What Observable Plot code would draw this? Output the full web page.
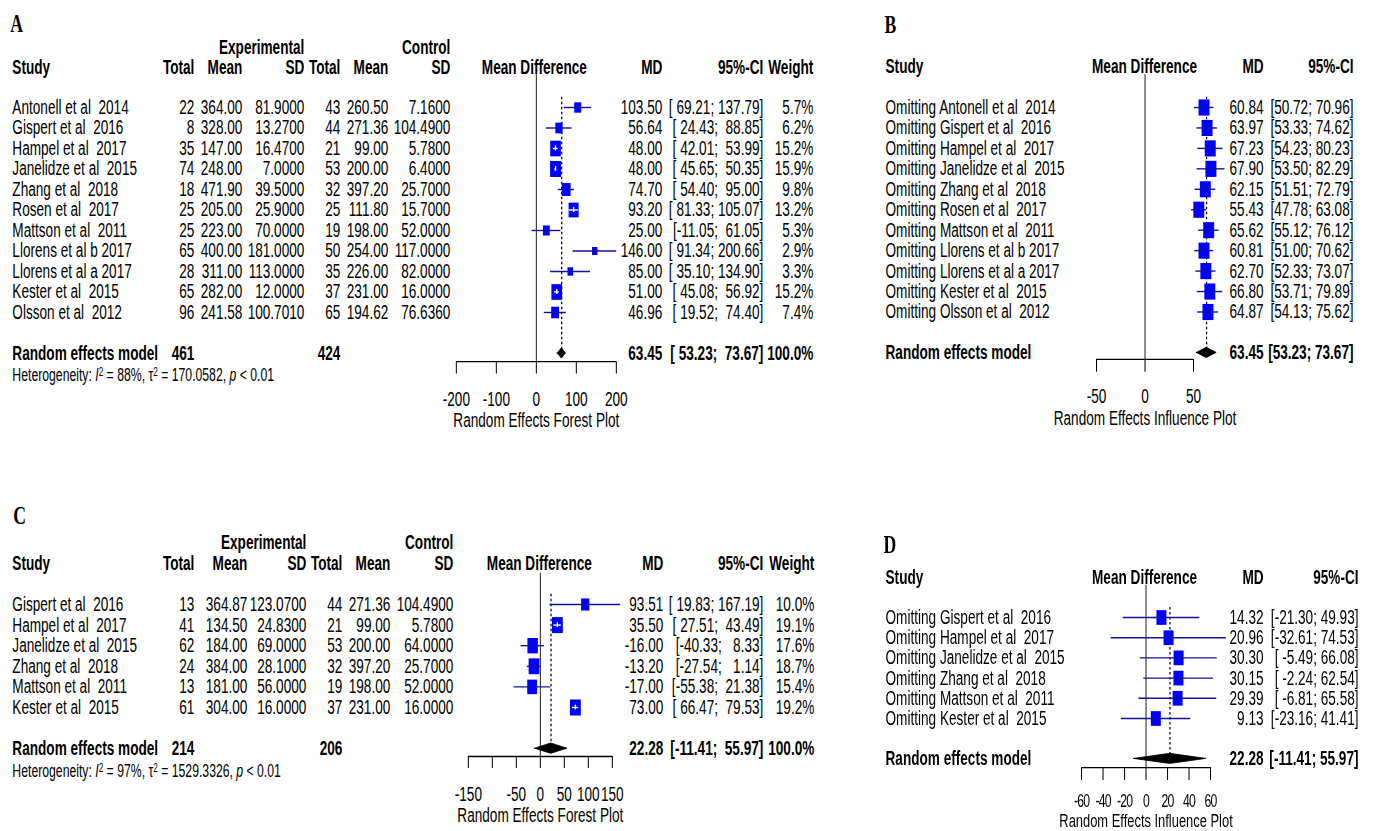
<!DOCTYPE html>
<html><head><meta charset="utf-8">
<script src="https://cdn.jsdelivr.net/npm/d3@7"></script>
<script src="https://cdn.jsdelivr.net/npm/@observablehq/plot@0.6"></script>
<style>
html,body{margin:0;padding:0;background:#fff;overflow:hidden;width:1373px;height:831px;}
#page{position:absolute;left:0;top:0;height:831px;transform-origin:0 0;}
.panel{position:absolute;}
.panel svg{max-width:none !important;display:block;}
svg text{white-space:pre;}
</style></head><body><div id="page"></div>
<script>
// ---------- Panel A: forest plot ----------
const studiesA = ["Antonell et al  2014","Gispert et al  2016","Hampel et al  2017","Janelidze et al  2015","Zhang et al  2018","Rosen et al  2017","Mattson et al  2011","Llorens et al b 2017","Llorens et al a 2017","Kester et al  2015","Olsson et al  2012"];
const expTotalA = [22, 8, 35, 74, 18, 25, 25, 65, 28, 65, 96];
const expMeanA  = [364.00, 328.00, 147.00, 248.00, 471.90, 205.00, 223.00, 400.00, 311.00, 282.00, 241.58];
const expSDA    = [81.9, 13.27, 16.47, 7.0, 39.5, 25.9, 70.0, 181.0, 113.0, 12.0, 100.701];
const ctlTotalA = [43, 44, 21, 53, 32, 25, 19, 50, 35, 37, 65];
const ctlMeanA  = [260.50, 271.36, 99.00, 200.00, 397.20, 111.80, 198.00, 254.00, 226.00, 231.00, 194.62];
const ctlSDA    = [7.16, 104.49, 5.78, 6.4, 25.7, 15.7, 52.0, 117.0, 82.0, 16.0, 76.636];
const mdA       = [103.50, 56.64, 48.00, 48.00, 74.70, 93.20, 25.00, 146.00, 85.00, 51.00, 46.96];
const lowerA    = [69.21, 24.43, 42.01, 45.65, 54.40, 81.33, -11.05, 91.34, 35.10, 45.08, 19.52];
const upperA    = [137.79, 88.85, 53.99, 50.35, 95.00, 105.07, 61.05, 200.66, 134.90, 56.92, 74.40];
const weightA   = [5.7, 6.2, 15.2, 15.9, 9.8, 13.2, 5.3, 2.9, 3.3, 15.2, 7.4];
const summaryA  = [63.45, 53.23, 73.67];
const totalsA   = [461, 424];
const hetA      = ["88%", "170.0582", "< 0.01"];
const ticksA    = [-200, -100, 0, 100, 200];
const tickLabelsA = [-200, -100, 0, 100, 200];

// ---------- Panel B: influence plot ----------
const studiesB = ["Omitting Antonell et al  2014","Omitting Gispert et al  2016","Omitting Hampel et al  2017","Omitting Janelidze et al  2015","Omitting Zhang et al  2018","Omitting Rosen et al  2017","Omitting Mattson et al  2011","Omitting Llorens et al b 2017","Omitting Llorens et al a 2017","Omitting Kester et al  2015","Omitting Olsson et al  2012"];
const mdB     = [60.84, 63.97, 67.23, 67.90, 62.15, 55.43, 65.62, 60.81, 62.70, 66.80, 64.87];
const lowerB  = [50.72, 53.33, 54.23, 53.50, 51.51, 47.78, 55.12, 51.00, 52.33, 53.71, 54.13];
const upperB  = [70.96, 74.62, 80.23, 82.29, 72.79, 63.08, 76.12, 70.62, 73.07, 79.89, 75.62];
const summaryB = [63.45, 53.23, 73.67];
const ticksB = [-50, 0, 50];
const tickLabelsB = [-50, 0, 50];

// ---------- Panel C: forest plot ----------
const studiesC = ["Gispert et al  2016","Hampel et al  2017","Janelidze et al  2015","Zhang et al  2018","Mattson et al  2011","Kester et al  2015"];
const expTotalC = [13, 41, 62, 24, 13, 61];
const expMeanC  = [364.87, 134.50, 184.00, 384.00, 181.00, 304.00];
const expSDC    = [123.07, 24.83, 69.0, 28.1, 56.0, 16.0];
const ctlTotalC = [44, 21, 53, 32, 19, 37];
const ctlMeanC  = [271.36, 99.00, 200.00, 397.20, 198.00, 231.00];
const ctlSDC    = [104.49, 5.78, 64.0, 25.7, 52.0, 16.0];
const mdC       = [93.51, 35.50, -16.00, -13.20, -17.00, 73.00];
const lowerC    = [19.83, 27.51, -40.33, -27.54, -55.38, 66.47];
const upperC    = [167.19, 43.49, 8.33, 1.14, 21.38, 79.53];
const weightC   = [10.0, 19.1, 17.6, 18.7, 15.4, 19.2];
const summaryC  = [22.28, -11.41, 55.97];
const totalsC   = [214, 206];
const hetC      = ["97%", "1529.3326", "< 0.01"];
const ticksC    = [-150, -100, -50, 0, 50, 100, 150];
const tickLabelsC = [-150, -50, 0, 50, 100, 150];

// ---------- Panel D: influence plot ----------
const studiesD = ["Omitting Gispert et al  2016","Omitting Hampel et al  2017","Omitting Janelidze et al  2015","Omitting Zhang et al  2018","Omitting Mattson et al  2011","Omitting Kester et al  2015"];
const mdD     = [14.32, 20.96, 30.30, 30.15, 29.39, 9.13];
const lowerD  = [-21.30, -32.61, -5.49, -2.24, -6.81, -23.16];
const upperD  = [49.93, 74.53, 66.08, 62.54, 65.58, 41.41];
const summaryD = [22.28, -11.41, 55.97];
const ticksD = [-60, -40, -20, 0, 20, 40, 60];
const tickLabelsD = [-60, -40, -20, 0, 20, 40, 60];

// ---------- rendering ----------
const SX = 0.68; // horizontal compression of the original picture
const SANS = "'Liberation Sans', Arial, Helvetica, sans-serif";
const SERIF = "'Liberation Serif', 'Times New Roman', serif";
const SQUARE = "#0000ff";
const CILINE = "#10109a";

const page = document.getElementById("page");
page.style.width = (1373 / SX) + "px";
page.style.transform = `scaleX(${SX})`;

function buildPanel(c) {
  const n = c.md.length, idx = d3.range(n);
  const L = v => (v - c.left) / SX;
  const reRow = n + 1, hetRow = n + 2;
  const lo = c.lower, hi = c.upper, S = c.summary;
  const wl = d3.max([...lo, S[1]], v => v.toFixed(2).length);
  const wh = d3.max([...hi, S[2]], v => v.toFixed(2).length);
  const ci = (a, b) => "[" + a.toFixed(2).padStart(wl) + "; " + b.toFixed(2).padStart(wh) + "]";
  const k = (L(c.px[1]) - L(c.px[0])) / (c.dom[1] - c.dom[0]);
  const wmax = c.weight ? d3.max(c.weight) : 1;
  const rad = i => c.weight ? c.r[0] + (c.r[1] - c.r[0]) * Math.sqrt(c.weight[i] / wmax) : c.r[1];
  const inside = idx.filter(i => (hi[i] - lo[i]) * k < Math.sqrt(Math.PI) * rad(i));
  const outside = idx.filter(i => !inside.includes(i));
  const T = (data, o) => Plot.text(data, {frameAnchor: "left", fontSize: 20, ...o});
  const col = (x, a, text, o = {}) => T(idx, {y: i => i, dx: L(x), textAnchor: a, text, ...o});
  const one = (t, row, x, a, o = {}) => T([t], {y: () => row, dx: L(x), textAnchor: a, text: d => d, ...o});
  const B = {fontWeight: "bold"};
  const cl = c.cols, h2 = c.h2;
  const marks = [];
  marks.push(one(c.letter, c.letterRow, c.letterX, "start", {fontFamily: SERIF, fontWeight: "bold", fontSize: 26}));
  if (c.expTotal) {
    marks.push(one("Experimental", c.h1, cl.sdE, "end", B), one("Control", c.h1, cl.sdC, "end", B));
    for (const [t, x] of [["Total", cl.totE], ["Mean", cl.meanE], ["SD", cl.sdE], ["Total", cl.totC], ["Mean", cl.meanC], ["SD", cl.sdC]])
      marks.push(one(t, h2, x, "end", B));
  }
  marks.push(one("Study", h2, cl.study, "start", B), one("Mean Difference", h2, cl.mdHead, "middle", B),
             one("MD", h2, cl.md, "end", B), one("95%-CI", h2, cl.ci, "end", B));
  if (c.weight) marks.push(one("Weight", h2, cl.w, "end", B));
  marks.push(col(cl.study, "start", i => c.studies[i]));
  if (c.expTotal) {
    marks.push(
      col(cl.totE, "end", i => String(c.expTotal[i])),
      col(cl.meanE, "end", i => c.expMean[i].toFixed(2)),
      col(cl.sdE, "end", i => c.expSD[i].toFixed(4)),
      col(cl.totC, "end", i => String(c.ctlTotal[i])),
      col(cl.meanC, "end", i => c.ctlMean[i].toFixed(2)),
      col(cl.sdC, "end", i => c.ctlSD[i].toFixed(4)));
  }
  marks.push(col(cl.md, "end", i => c.md[i].toFixed(2)), col(cl.ci, "end", i => ci(lo[i], hi[i])));
  if (c.weight) marks.push(col(cl.w, "end", i => c.weight[i].toFixed(1) + "%"));
  marks.push(one("Random effects model", reRow, cl.study, "start", B));
  if (c.totals) marks.push(one(String(c.totals[0]), reRow, cl.totE, "end", B), one(String(c.totals[1]), reRow, cl.totC, "end", B));
  marks.push(one(S[0].toFixed(2), reRow, cl.md, "end", B), one(ci(S[1], S[2]), reRow, cl.ci, "end", B));
  if (c.weight) marks.push(one("100.0%", reRow, cl.w, "end", B));
  if (c.het) marks.push(one(`Heterogeneity: I² = ${c.het[0]}, τ² = ${c.het[1]}, p ${c.het[2]}`, hetRow + 0.08, cl.study, "start", {fontSize: 18}));

  const axisRow = reRow + c.ax[0];
  marks.push(
    Plot.ruleX([0], {y1: () => c.zeroTop, y2: () => axisRow, stroke: "#222", strokeWidth: 1.5}),
    Plot.ruleX([S[0]], {y1: () => -0.5, y2: () => reRow, stroke: "#000", strokeWidth: 1.8, strokeDasharray: "2.5,2.5"}),
    Plot.dot(idx, {x: i => c.md[i], y: i => i, r: c.weight ? (i => c.weight[i]) : c.r[1], symbol: "square", fill: SQUARE, stroke: "none"}),
    Plot.ruleY(outside, {x1: i => lo[i], x2: i => hi[i], y: i => i, stroke: CILINE, strokeWidth: 1.4}),
    Plot.ruleY(inside, {x1: i => lo[i], x2: i => hi[i], y: i => i, stroke: "white", strokeWidth: 1.4}),
    Plot.ruleX(inside, {x: i => c.md[i], y1: i => i - 0.12, y2: i => i + 0.12, stroke: "white", strokeWidth: 2}),
    Plot.areaY([[S[1], 0], [S[0], 1], [S[2], 0]], {x: d => d[0], y1: d => reRow - 0.25 * d[1], y2: d => reRow + 0.25 * d[1], fill: "black", stroke: "black", strokeWidth: 1}),
    Plot.ruleY([axisRow], {x1: () => c.dom[0], x2: () => c.dom[1], stroke: "black", strokeWidth: 1.3}),
    Plot.ruleX(c.ticks, {x: d => d, y1: () => axisRow, y2: () => reRow + c.ax[1], stroke: "black", strokeWidth: 1.5}),
    Plot.text(c.tickLabels, {x: d => d, y: () => reRow + c.ax[2], text: d => String(d), fontSize: c.tickFont || 20}),
    Plot.text([c.xlab], {x: () => (c.dom[0] + c.dom[1]) / 2, y: () => reRow + c.ax[3], text: d => d, fontSize: c.titleFont || 20})
  );

  const opts = {
    width: c.width / SX, height: c.height,
    marginTop: 0, marginRight: 0, marginBottom: 0, marginLeft: 0,
    x: {type: "linear", domain: c.dom, range: [L(c.px[0]), L(c.px[1])], axis: null},
    y: {type: "linear", domain: [0, 1], range: [c.row0 - c.top, c.row0 - c.top + c.sp], axis: null},
    style: {fontFamily: SANS, fontSize: "20px", background: "white", color: "black", overflow: "visible"},
    marks
  };
  if (c.weight) opts.r = {type: "pow", exponent: 0.5, domain: [0, wmax], range: c.r};
  const svg = Plot.plot(opts);

  if (c.tickSpacing) {
    d3.select(svg).selectAll("text").filter(function () { return c.tickLabels.map(String).includes(this.textContent); })
      .attr("letter-spacing", c.tickSpacing);
  }
  if (c.het) {
    d3.select(svg).selectAll("text").filter(function () { return this.textContent.startsWith("Heterogeneity:"); })
      .each(function () {
        const s = d3.select(this);
        s.text(null);
        s.append("tspan").text("Heterogeneity: ");
        s.append("tspan").attr("font-style", "italic").text("I");
        s.append("tspan").attr("dy", -5).attr("font-size", 12).text("2");
        s.append("tspan").attr("dy", 5).text(` = ${c.het[0]}, `);
        s.append("tspan").text("τ");
        s.append("tspan").attr("dy", -5).attr("font-size", 12).text("2");
        s.append("tspan").attr("dy", 5).text(` = ${c.het[1]}, `);
        s.append("tspan").attr("font-style", "italic").text("p");
        s.append("tspan").text(` ${c.het[2]}`);
      });
  }
  const div = document.createElement("div");
  div.className = "panel";
  div.style.left = (c.left / SX) + "px";
  div.style.top = c.top + "px";
  div.style.width = (c.width / SX) + "px";
  div.style.height = c.height + "px";
  div.appendChild(svg);
  page.appendChild(div);
}

buildPanel({
  letter: "A", left: 0, top: 0, width: 860, height: 440,
  row0: 107, sp: 20.5, letterRow: -4.07, letterX: 10, h1: -2.9, h2: -1.93,
  dom: [-200, 200], px: [456, 616], ticks: ticksA, tickLabels: tickLabelsA, xlab: "Random Effects Forest Plot",
  ax: [0.4, 1.0, 2.25, 3.27], zeroTop: -1.6, r: [1.13, 9.03],
  cols: {study: 12, totE: 194, meanE: 242, sdE: 304, totC: 340, meanC: 388, sdC: 450, mdHead: 534, md: 662, ci: 763, w: 813},
  studies: studiesA, expTotal: expTotalA, expMean: expMeanA, expSD: expSDA, ctlTotal: ctlTotalA, ctlMean: ctlMeanA, ctlSD: ctlSDA,
  md: mdA, lower: lowerA, upper: upperA, weight: weightA, summary: summaryA, totals: totalsA, het: hetA
});
buildPanel({
  letter: "B", left: 860, top: 0, width: 513, height: 440,
  row0: 107, sp: 20.45, letterRow: -4.07, letterX: 884, h2: -2.0,
  dom: [-50, 50], px: [1096, 1193], ticks: ticksB, tickLabels: tickLabelsB, xlab: "Random Effects Influence Plot",
  ax: [0.32, 0.95, 2.15, 3.2], zeroTop: -1.6, r: [0, 9.1],
  cols: {study: 885, mdHead: 1144, md: 1263, ci: 1353},
  studies: studiesB, md: mdB, lower: lowerB, upper: upperB, summary: summaryB
});
buildPanel({
  letter: "C", left: 0, top: 440, width: 860, height: 391,
  row0: 604, sp: 20.6, letterRow: -4.32, letterX: 13, h1: -3.0, h2: -2.0,
  dom: [-150, 150], px: [468, 612], ticks: ticksC, tickLabels: tickLabelsC, xlab: "Random Effects Forest Plot",
  ax: [0.38, 0.96, 2.25, 3.27], zeroTop: -1.5, r: [1.13, 9.03],
  cols: {study: 12, totE: 194, meanE: 247, sdE: 306, totC: 342, meanC: 390, sdC: 453, mdHead: 539, md: 663, ci: 763, w: 814},
  studies: studiesC, expTotal: expTotalC, expMean: expMeanC, expSD: expSDC, ctlTotal: ctlTotalC, ctlMean: ctlMeanC, ctlSD: ctlSDC,
  md: mdC, lower: lowerC, upper: upperC, weight: weightC, summary: summaryC, totals: totalsC, het: hetC
});
buildPanel({
  letter: "D", left: 860, top: 440, width: 513, height: 391,
  row0: 617, sp: 20.2, letterRow: -3.61, letterX: 883, h2: -2.0,
  dom: [-60, 60], px: [1081, 1210], ticks: ticksD, tickLabels: tickLabelsD, xlab: "Random Effects Influence Plot",
  ax: [0.43, 1.07, 2.08, 3.09], zeroTop: -1.6, r: [0, 8.3], tickFont: 18, tickSpacing: -1.2, titleFont: 19,
  cols: {study: 885, mdHead: 1144, md: 1263, ci: 1358},
  studies: studiesD, md: mdD, lower: lowerD, upper: upperD, summary: summaryD
});
</script></body></html>
